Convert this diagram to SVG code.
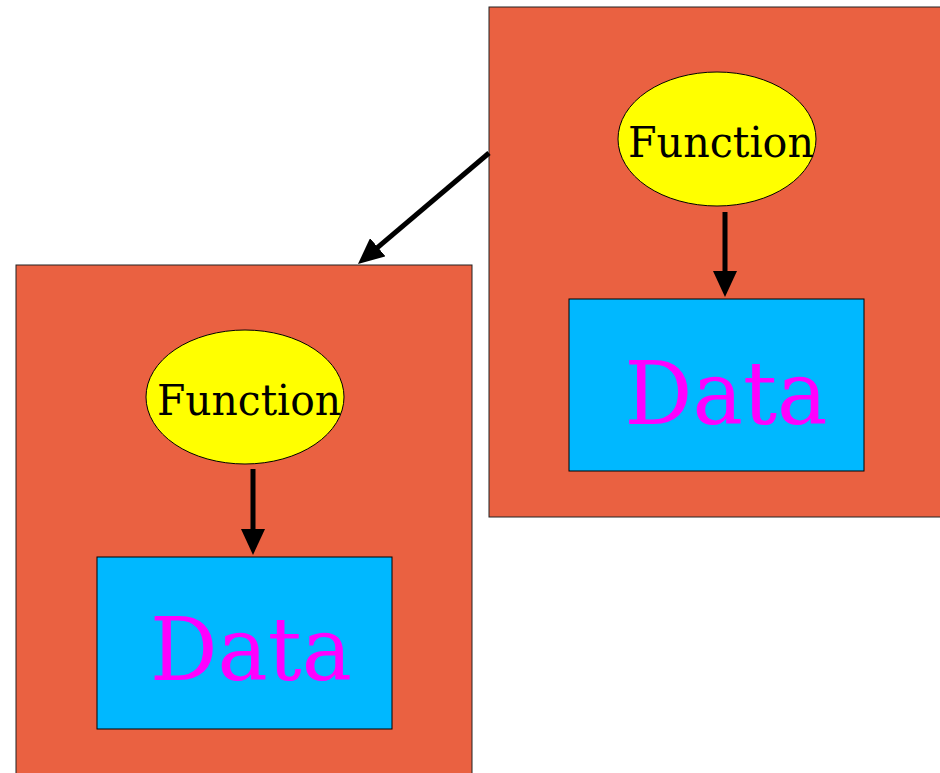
<svg xmlns="http://www.w3.org/2000/svg" width="940" height="773" viewBox="0 0 940 773">
<defs>
<marker id="ah" viewBox="0 0 26 24" refX="16" refY="12" markerWidth="26" markerHeight="24" markerUnits="userSpaceOnUse" orient="auto">
<path d="M0,0 L26,12 L0,24 z" fill="#000"/>
</marker>
<style>
.frame{fill:#EA6141;stroke:#222;stroke-width:1}
.fn{fill:#FFFF00;stroke:#000;stroke-width:1}
.data{fill:#00B8FF;stroke:#000;stroke-width:1}
.ft{font-family:"DejaVu Serif","Liberation Serif",serif;font-size:43px;fill:#000;text-anchor:middle}
.dt{font-family:"DejaVu Serif","Liberation Serif",serif;font-size:88px;fill:#FF00FF;text-anchor:middle}
.conn{stroke:#000;stroke-width:5;fill:none;marker-end:url(#ah)}
</style>
</defs>
<rect width="940" height="773" fill="#fff"/>
<g id="frame-right">
<rect class="frame" x="489" y="7" width="460" height="510"/>
</g>
<g id="frame-left">
<rect class="frame" x="16" y="265" width="456" height="520"/>
</g>
<g id="function-right">
<ellipse class="fn" cx="717" cy="139" rx="99" ry="67"/>
<text class="ft" x="721" y="157" textLength="186" lengthAdjust="spacingAndGlyphs">Function</text>
</g>
<g id="data-right">
<rect class="data" x="569" y="299" width="295" height="172"/>
<text class="dt" x="726" y="424" textLength="203" lengthAdjust="spacingAndGlyphs">Data</text>
</g>
<g id="function-left">
<ellipse class="fn" cx="245" cy="397" rx="99" ry="67"/>
<text class="ft" x="249" y="415" textLength="184" lengthAdjust="spacingAndGlyphs">Function</text>
</g>
<g id="data-left">
<rect class="data" x="97" y="557" width="295" height="172"/>
<text class="dt" x="251" y="680" textLength="202" lengthAdjust="spacingAndGlyphs">Data</text>
</g>
<g id="connectors">
<line class="conn" x1="725" y1="212" x2="725" y2="287"/>
<line class="conn" x1="253" y1="469" x2="253" y2="545"/>
<line class="conn" x1="489" y1="153" x2="365.6" y2="257.6"/>
</g>
</svg>
